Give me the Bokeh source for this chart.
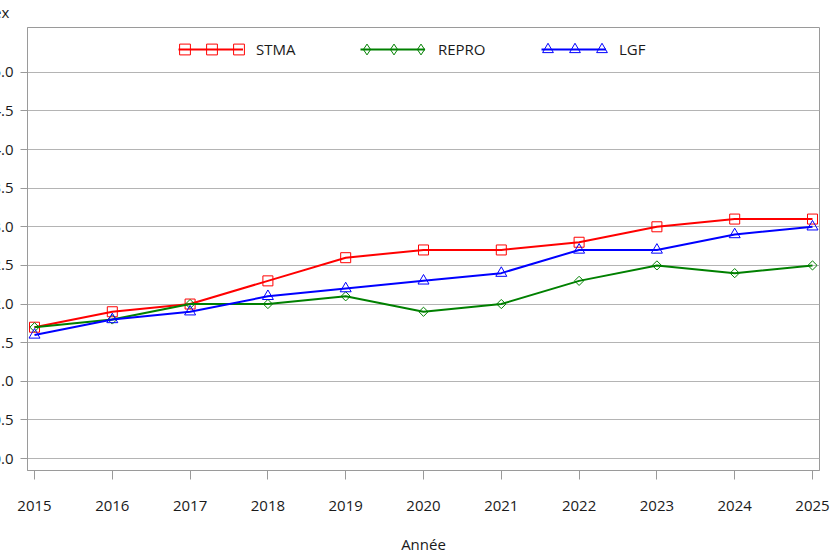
import math

from bokeh.embed import file_html
from bokeh.models import (ColumnDataSource, FixedTicker, Legend, LegendItem,
                          NumeralTickFormatter, Range1d, Title)
from bokeh.plotting import figure
from bokeh.resources import INLINE

# Annual index values per programme
years = [2015, 2016, 2017, 2018, 2019, 2020, 2021, 2022, 2023, 2024, 2025]
stma = [1.7, 1.9, 2.0, 2.3, 2.6, 2.7, 2.7, 2.8, 3.0, 3.1, 3.1]
repro = [1.7, 1.8, 2.0, 2.0, 2.1, 1.9, 2.0, 2.3, 2.5, 2.4, 2.5]
lgf = [1.6, 1.8, 1.9, 2.1, 2.2, 2.3, 2.4, 2.7, 2.7, 2.9, 3.0]
y_ticks = [0.0, 0.5, 1.0, 1.5, 2.0, 2.5, 3.0, 3.5, 4.0, 4.5, 5.0]

FONT = "Open Sans"
GRID = "#b4b4b4"
AXIS = "#9a9a9a"
TEXT = "#1a1a1a"

src = ColumnDataSource(dict(year=years, stma=stma, repro=repro, lgf=lgf))

p = figure(width=865, height=568, output_backend="svg", toolbar_location=None,
           x_range=Range1d(2014.91, 2025.09), y_range=Range1d(-0.155, 5.58),
           min_border_left=60, min_border_right=13, min_border_top=39,
           min_border_bottom=85, margin=(-12, 0, 0, -33))

p.background_fill_color = "white"
p.border_fill_color = "white"
p.outline_line_color = AXIS
p.outline_line_width = 1

# axes
p.xaxis.ticker = FixedTicker(ticks=years)
p.yaxis.ticker = FixedTicker(ticks=y_ticks)
p.yaxis.formatter = NumeralTickFormatter(format="0.0")
for ax in (p.xaxis[0], p.yaxis[0]):
    ax.axis_line_color = AXIS
    ax.major_tick_line_color = AXIS
    ax.minor_tick_line_color = None
    ax.major_tick_in = 0
    ax.major_label_text_font = FONT
    ax.major_label_text_font_size = "15px"
    ax.major_label_text_color = TEXT
    ax.axis_label_text_font = FONT
    ax.axis_label_text_font_size = "15px"
    ax.axis_label_text_font_style = "normal"
    ax.axis_label_text_color = TEXT
p.xaxis.major_tick_out = 9
p.xaxis.major_label_standoff = 21
p.xaxis.axis_label = "Année"
p.xaxis.axis_label_standoff = 20
p.yaxis.major_tick_out = 7
p.yaxis.major_label_standoff = 7

p.xgrid.grid_line_color = None
p.ygrid.grid_line_color = GRID
p.ygrid.grid_line_width = 1

# y-axis caption, set horizontally above the tick labels
p.add_layout(Title(text="Index", align="left", offset=-57, standoff=12,
                   text_font=FONT, text_font_size="15px",
                   text_font_style="normal", text_color=TEXT), "above")

# series
l1 = p.line("year", "stma", source=src, line_color="#ff0000", line_width=2)
m1 = p.scatter("year", "stma", source=src, marker="square", size=10,
               fill_color=None, line_color="#ff0000", line_width=1)
l2 = p.line("year", "repro", source=src, line_color="#008000", line_width=2)
m2 = p.scatter("year", "repro", source=src, marker="square", size=6.5,
               angle=math.pi / 4, fill_color=None, line_color="#008000",
               line_width=1)
l3 = p.line("year", "lgf", source=src, line_color="#0000ff", line_width=2)
m3 = p.scatter("year", "lgf", source=src, marker="triangle", size=11,
               fill_color=None, line_color="#0000ff", line_width=1)

# hidden diamond glyph used only as the REPRO key symbol
k2 = p.scatter("year", "repro", source=src, marker="diamond", size=10,
               fill_color=None, line_color="#008000", line_width=1,
               visible=False)

# key: a line sample with its label, and three markers laid over the sample
key = [("STMA", l1, m1, 151), ("REPRO", l2, k2, 333), ("LGF", l3, m3, 514)]
for name, line_r, mark_r, left in key:
    p.add_layout(Legend(
        items=[LegendItem(label=name, renderers=[line_r])],
        orientation="horizontal", location=(left, 410), padding=0, spacing=0,
        glyph_width=65, glyph_height=22, label_width=0, label_standoff=13,
        label_text_font=FONT, label_text_font_size="15px",
        label_text_color=TEXT, border_line_color=None,
        background_fill_alpha=0, inactive_fill_alpha=0), "center")
    p.add_layout(Legend(
        items=[LegendItem(label="", renderers=[mark_r]) for _ in range(3)],
        orientation="horizontal", location=(left - 7, 406), padding=0,
        spacing=0, glyph_width=27, glyph_height=30, label_width=0,
        label_standoff=0, label_text_font_size="1px",
        border_line_color=None, background_fill_alpha=0,
        inactive_fill_alpha=0), "center")

open("out.html", "w").write(file_html(p, INLINE))
